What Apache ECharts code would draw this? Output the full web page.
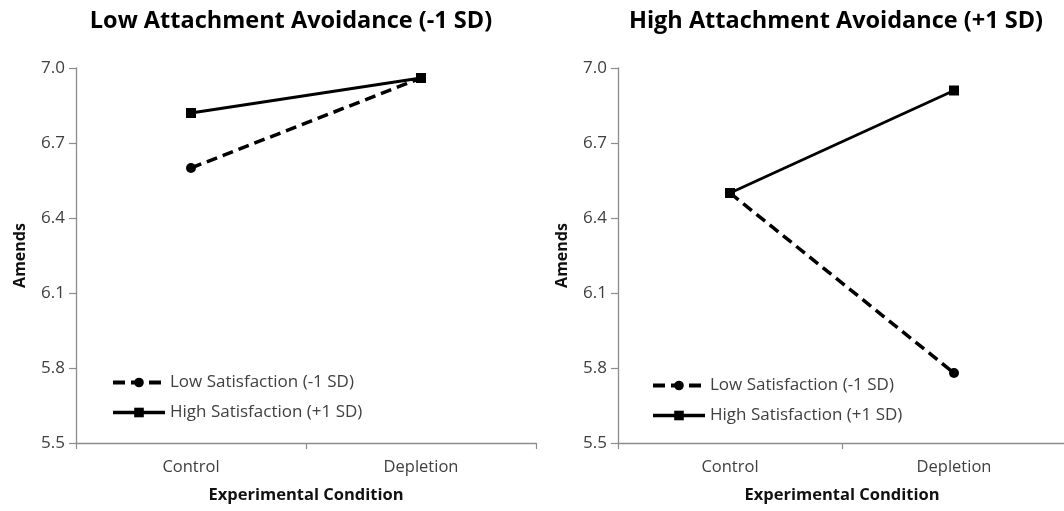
<!DOCTYPE html>
<html><head><meta charset="utf-8">
<script src="https://cdn.jsdelivr.net/npm/echarts@6/dist/echarts.min.js"></script>
<style>html,body{margin:0;padding:0;background:#fff}#c{width:1064px;height:511px}</style>
</head><body><div id="c"></div>
<script>
const categories = ['Control', 'Depletion'];
const yTicks = [5.5, 5.8, 6.1, 6.4, 6.7, 7.0];
const seriesNames = ['Low Satisfaction (-1 SD)', 'High Satisfaction (+1 SD)'];
const panelTitles = ['Low Attachment Avoidance (-1 SD)', 'High Attachment Avoidance (+1 SD)'];
const lowAvoidLowSat = [6.60, 6.96];
const lowAvoidHighSat = [6.82, 6.96];
const highAvoidLowSat = [6.50, 5.78];
const highAvoidHighSat = [6.50, 6.91];

const font = '"Open Sans", "Noto Sans", sans-serif';
const txt = '#404040';
const axisCol = '#8c8c8c';
const grids = [
  {left: 76, top: 68, width: 460, height: 375, containLabel:false, outerBoundsMode:'none'},
  {left: 618, top: 68, width: 448, height: 375, containLabel:false, outerBoundsMode:'none'}
];
function xAxis(i){
  return {type:'category', gridIndex:i, data:categories, boundaryGap:true,
    name:'Experimental Condition', nameLocation:'middle', nameGap:44,
    nameTextStyle:{fontFamily:font, fontWeight:'bold', fontSize:16.5, color:'#111'},
    axisLine:{lineStyle:{color:axisCol, width:1.3}},
    axisTick:{show:true, length:6, inside:false, lineStyle:{color:axisCol, width:1.2}},
    axisLabel:{fontFamily:font, fontSize:16.5, color:txt, margin:16},
    splitLine:{show:false}};
}
function yAxis(i){
  return {type:'value', gridIndex:i, min:5.5, max:7.0, interval:0.3,
    name:'Amends', nameLocation:'middle', nameGap:48, nameRotate:90,
    nameTextStyle:{fontFamily:font, fontWeight:'bold', fontSize:16, color:'#111'},
    axisLine:{show:true, lineStyle:{color:axisCol, width:1.3}},
    axisTick:{show:true, length:7, lineStyle:{color:axisCol, width:1.2}},
    axisLabel:{fontFamily:font, fontSize:17, color:txt, margin:11,
      formatter:v=>{const t=yTicks.find(k=>Math.abs(k-v)<1e-6);return (t!==undefined?t:v).toFixed(1);}},
    splitLine:{show:false}};
}
function lowSeries(i, data){
  return {name:seriesNames[0], type:'line', xAxisIndex:i, yAxisIndex:i, data:data,
    symbol:'circle', symbolSize:10, itemStyle:{color:'#000'},
    lineStyle:{color:'#000', width:3.5, type:[11,6]}, z:2};
}
function highSeries(i, data){
  return {name:seriesNames[1], type:'line', xAxisIndex:i, yAxisIndex:i, data:data,
    symbol:'rect', symbolSize:10, itemStyle:{color:'#000'},
    lineStyle:{color:'#000', width:2.8, type:'solid'}, z:3};
}
function legendData(){
  return [
    {name:seriesNames[0], lineStyle:{width:4, type:[12,6]}},
    {name:seriesNames[1], lineStyle:{width:3.5}}
  ];
}
const option = {
  animation:false,
  title:[
    {text:panelTitles[0], left:286, top:4, textAlign:'center', textStyle:{fontFamily:font, fontWeight:'bold', fontSize:23.5, color:'#000'}},
    {text:panelTitles[1], left:831, top:4, textAlign:'center', textStyle:{fontFamily:font, fontWeight:'bold', fontSize:23.5, color:'#000'}}
  ],
  legend:[
    {left:106, top:369, orient:'vertical', itemWidth:52, itemHeight:12, itemGap:13,
     data:legendData(), textStyle:{fontFamily:font, fontSize:17, color:txt}},
    {left:646, top:372, orient:'vertical', itemWidth:52, itemHeight:12, itemGap:13,
     data:legendData(), textStyle:{fontFamily:font, fontSize:17, color:txt}}
  ],
  grid:grids,
  xAxis:[xAxis(0), xAxis(1)],
  yAxis:[yAxis(0), yAxis(1)],
  series:[
    lowSeries(0, lowAvoidLowSat), highSeries(0, lowAvoidHighSat),
    lowSeries(1, highAvoidLowSat), highSeries(1, highAvoidHighSat)
  ]
};
const chart = echarts.init(document.getElementById('c'), null, {renderer:'canvas'});
chart.setOption(option);
</script></body></html>
